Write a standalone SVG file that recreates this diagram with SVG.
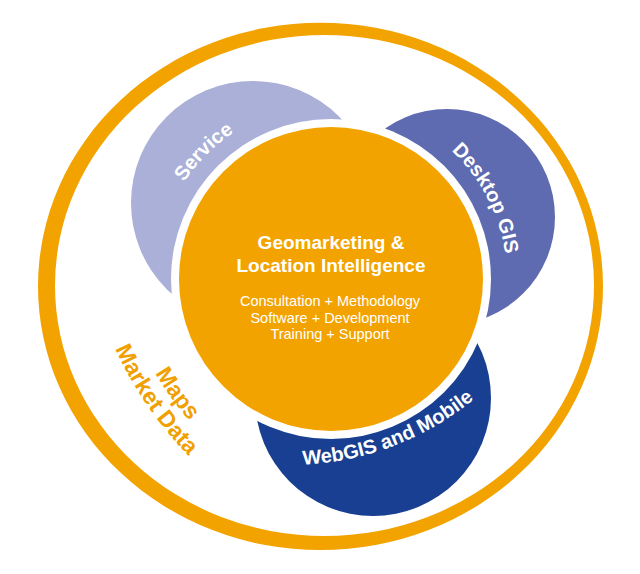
<svg xmlns="http://www.w3.org/2000/svg" width="640" height="574" viewBox="0 0 640 574">
<style>
.lobe-text{font-family:"Liberation Sans",Arial,sans-serif;font-weight:bold;font-size:20px;fill:#ffffff}
.title{font-family:"Liberation Sans",Arial,sans-serif;font-weight:bold;font-size:19px;fill:#ffffff;text-anchor:middle}
.sub{font-family:"Liberation Sans",Arial,sans-serif;font-size:14.5px;fill:#ffffff;text-anchor:middle}
.data{font-family:"Liberation Sans",Arial,sans-serif;font-weight:bold;font-size:23px;fill:#F0A000}
</style>
<defs>
<path id="p-service" d="M 157.7 248.4 A 176 176 0 0 1 300.4 105.7"/>
<path id="p-desktop" d="M 383.9 111.1 A 176 176 0 0 1 498.9 331.9"/>
<path id="p-webgis" d="M 224.8 457.6 A 290 290 0 0 0 527.6 341.3"/>
<path id="p-maps" d="M 117.6 286.1 A 357 357 0 0 0 260.0 484.4"/>
<path id="p-market" d="M 92.3 284.9 A 381 381 0 0 0 240.0 499.7"/>
</defs>
<rect width="640" height="574" fill="#ffffff"/>
<g id="ring">
<path fill="#F3A300" fill-rule="evenodd" d="M 38 286.4 A 282.5 263.7 0 1 0 603 286.4 A 282.5 263.7 0 1 0 38 286.4 Z M 55 285.5 A 269.5 250.5 0 1 0 594 285.5 A 269.5 250.5 0 1 0 55 285.5 Z"/>
</g>
<g id="node-service">
<circle cx="253" cy="203" r="122" fill="#AAB0D8"/>
</g>
<g id="node-desktop">
<circle cx="447" cy="217" r="108" fill="#5E6BB0"/>
</g>
<g id="node-webgis">
<circle cx="373" cy="398" r="118" fill="#183F91"/>
</g>
<g id="node-center">
<circle cx="331" cy="279" r="160" fill="#ffffff"/>
<circle cx="331" cy="279" r="152" fill="#F3A300"/>
<text class="title" x="331" y="249">Geomarketing &amp;</text>
<text class="title" x="331" y="272">Location Intelligence</text>
<text class="sub" x="330" y="306">Consultation + Methodology</text>
<text class="sub" x="330" y="323">Software + Development</text>
<text class="sub" x="330" y="339">Training + Support</text>
</g>
<g id="label-service">
<text class="lobe-text"><textPath href="#p-service" startOffset="50%" text-anchor="middle">Service</textPath></text>
</g>
<g id="label-desktop">
<text class="lobe-text"><textPath href="#p-desktop" startOffset="50%" text-anchor="middle">Desktop GIS</textPath></text>
</g>
<g id="label-webgis">
<text class="lobe-text"><textPath href="#p-webgis" startOffset="50%" text-anchor="middle">WebGIS and Mobile</textPath></text>
</g>
<g id="node-data">
<text class="data"><textPath href="#p-maps" startOffset="50%" text-anchor="middle">Maps</textPath></text>
<text class="data"><textPath href="#p-market" startOffset="50%" text-anchor="middle">Market Data</textPath></text>
</g>
</svg>
